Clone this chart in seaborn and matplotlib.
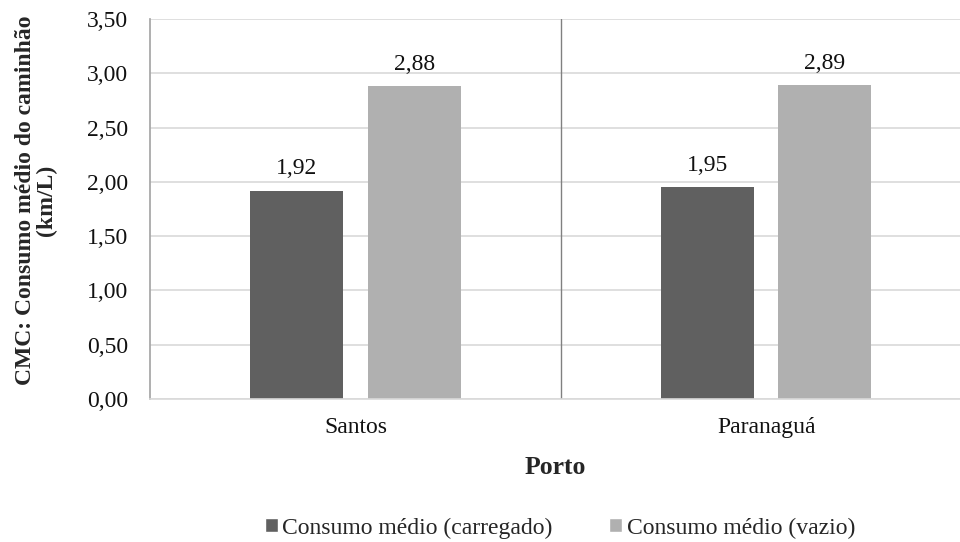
import matplotlib
matplotlib.use("Agg")
import matplotlib.pyplot as plt
from matplotlib.ticker import FuncFormatter, MultipleLocator
from matplotlib.patches import Patch
import seaborn as sns
import pandas as pd

portos = ["Santos", "Paranaguá"]
series = ["Consumo médio (carregado)", "Consumo médio (vazio)"]
carregado = [1.92, 1.95]
vazio = [2.88, 2.89]
cores = ["#606060", "#b0b0b0"]

df = pd.DataFrame({
    "Porto": portos * 2,
    "Serie": [series[0]] * 2 + [series[1]] * 2,
    "Valor": carregado + vazio,
})

sns.set_theme(style="white")
plt.rcParams["font.family"] = ["Liberation Serif", "DejaVu Serif"]

fig = plt.figure(figsize=(9.6, 5.42), dpi=100)
ax = fig.add_axes([150 / 960, 1 - 399 / 542, (960 - 150) / 960, (399 - 19) / 542])

sns.barplot(data=df, x="Porto", y="Valor", hue="Serie", order=portos,
            hue_order=series, palette=cores, width=0.572, gap=0.21,
            saturation=1, linewidth=0, ax=ax, legend=False)

for cont in ax.containers:
    labels = [f"{b.get_height():.2f}".replace(".", ",") for b in cont]
    ax.bar_label(cont, labels=labels, padding=8, fontsize=17, color="#111111")

ax.set_ylim(0, 3.5)
ax.set_xlim(-0.5, 1.472)
ax.yaxis.set_major_locator(MultipleLocator(0.5))
ax.yaxis.set_major_formatter(FuncFormatter(lambda v, p: f"{v:.2f}".replace(".", ",")))
ax.grid(axis="y", color="#d9d9d9", linewidth=1.2)
ax.set_axisbelow(True)
ax.axvline(0.5, color="#808080", linewidth=1.0)

for s in ["top", "right"]:
    ax.spines[s].set_visible(False)
ax.spines["left"].set_color("#a6a6a6")
ax.spines["bottom"].set_color("#d9d9d9")
ax.spines["bottom"].set_linewidth(1.2)

ax.tick_params(axis="both", length=0, labelsize=17, colors="#111111")
ax.tick_params(axis="x", pad=13)
ax.tick_params(axis="y", pad=16)

ax.set_xlabel("Porto", fontsize=18.5, fontweight="bold", labelpad=13)
ax.set_ylabel("CMC: Consumo médio do caminhão\n(km/L)", fontsize=17,
              fontweight="bold", linespacing=1.0, va="center", ha="center")
ax.yaxis.set_label_coords(-0.141, 0.524)

handles = [Patch(facecolor=c, label=s) for c, s in zip(cores, series)]
fig.legend(handles=handles, loc="center", bbox_to_anchor=(560 / 960, 1 - 528 / 542),
           ncol=2, frameon=False, fontsize=17, handlelength=0.55, handleheight=0.55,
           handletextpad=0.2, columnspacing=2.4, borderaxespad=0, borderpad=0)

fig.savefig("out.png", dpi=100)
